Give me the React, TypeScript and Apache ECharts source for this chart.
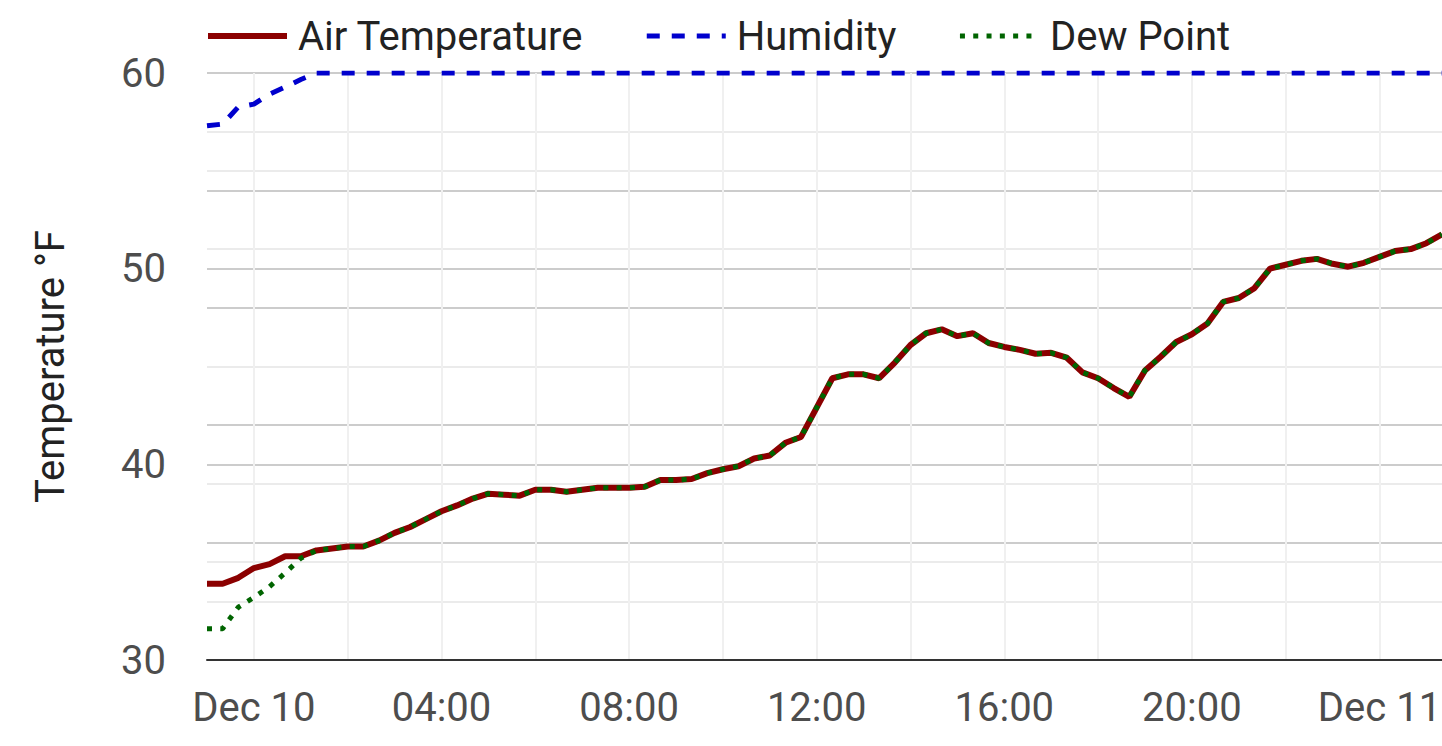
import React, { useEffect, useRef } from "react";
import * as echarts from "echarts";

// Readings every 20 minutes, starting Dec 9 23:00
const START_DAY = 9;
const START_MINUTE_OF_DAY = 23 * 60;
const STEP_MINUTES = 20;

const airTemperature = [
  33.9, 33.9, 34.2, 34.7, 34.9, 35.3, 35.3, 35.6, 35.7, 35.8,
  35.8, 36.1, 36.5, 36.8, 37.2, 37.6, 37.9, 38.25, 38.5, 38.45,
  38.4, 38.7, 38.7, 38.6, 38.7, 38.8, 38.8, 38.8, 38.85, 39.2,
  39.2, 39.25, 39.55, 39.75, 39.9, 40.3, 40.45, 41.1, 41.4, 42.9,
  44.4, 44.6, 44.6, 44.4, 45.2, 46.1, 46.7, 46.9, 46.55, 46.7,
  46.2, 46.0, 45.85, 45.65, 45.7, 45.45, 44.7, 44.4, 43.9, 43.45,
  44.8, 45.5, 46.25, 46.65, 47.2, 48.3, 48.5, 49.0, 50.0, 50.2,
  50.4, 50.5, 50.25, 50.1, 50.3, 50.6, 50.9, 51.0, 51.3, 51.75,
];

const dewPoint = [
  31.6, 31.6, 32.7, 33.2, 33.75, 34.45, 35.2, 35.6, 35.7, 35.8,
  35.8, 36.1, 36.5, 36.8, 37.2, 37.6, 37.9, 38.25, 38.5, 38.45,
  38.4, 38.7, 38.7, 38.6, 38.7, 38.8, 38.8, 38.8, 38.85, 39.2,
  39.2, 39.25, 39.55, 39.75, 39.9, 40.3, 40.45, 41.1, 41.4, 42.9,
  44.4, 44.6, 44.6, 44.4, 45.2, 46.1, 46.7, 46.9, 46.55, 46.7,
  46.2, 46.0, 45.85, 45.65, 45.7, 45.45, 44.7, 44.4, 43.9, 43.45,
  44.8, 45.5, 46.25, 46.65, 47.2, 48.3, 48.5, 49.0, 50.0, 50.2,
  50.4, 50.5, 50.25, 50.1, 50.3, 50.6, 50.9, 51.0, 51.3, 51.75,
];

const humidity = [
  91.0, 91.3, 94.2, 94.7, 96.4, 97.6, 98.9, 100, 100, 100,
  100, 100, 100, 100, 100, 100, 100, 100, 100, 100,
  100, 100, 100, 100, 100, 100, 100, 100, 100, 100,
  100, 100, 100, 100, 100, 100, 100, 100, 100, 100,
  100, 100, 100, 100, 100, 100, 100, 100, 100, 100,
  100, 100, 100, 100, 100, 100, 100, 100, 100, 100,
  100, 100, 100, 100, 100, 100, 100, 100, 100, 100,
  100, 100, 100, 100, 100, 100, 100, 100, 100, 100,
];

const pad = (n: number) => (n < 10 ? "0" + n : "" + n);
const timeLabels = airTemperature.map((_, i) => {
  const total = START_MINUTE_OF_DAY + i * STEP_MINUTES;
  const day = START_DAY + Math.floor(total / 1440);
  const m = total % 1440;
  return `Dec ${day} ${pad(Math.floor(m / 60))}:${pad(m % 60)}`;
});

const FONT = "Roboto";

export default function App() {
  const ref = useRef<HTMLDivElement>(null);
  useEffect(() => {
    if (!ref.current) return;
    const chart = echarts.init(ref.current, null, { renderer: "svg" });
    const majorLine = { show: true, lineStyle: { color: "#cccccc", width: 2 } };
    const minorLine = { show: true, lineStyle: { color: "#ebebeb", width: 2 } };
    chart.setOption({
      animation: false,
      backgroundColor: "#ffffff",
      grid: {
        left: 207,
        right: 0,
        top: 73,
        bottom: 86,
        containLabel: false,
        outerBoundsMode: "none",
      },
      legend: {
        left: 200,
        top: 11,
        itemWidth: 79,
        itemHeight: 14,
        itemGap: 61,
        itemStyle: { opacity: 0 },
        textStyle: {
          fontFamily: FONT,
          fontSize: 40,
          color: "#222222",
          padding: [0, 0, 0, 6],
        },
        data: [
          { name: "Air Temperature", lineStyle: { width: 6 } },
          { name: "Humidity", lineStyle: { width: 5 } },
          { name: "Dew Point", lineStyle: { width: 5 } },
        ],
      },
      xAxis: {
        type: "category",
        data: timeLabels,
        boundaryGap: false,
        axisLine: { show: true, lineStyle: { color: "#333333", width: 2 } },
        axisTick: { show: false },
        axisLabel: {
          interval: (index: number) => index % 12 === 3,
          margin: 27,
          fontFamily: FONT,
          fontSize: 40,
          color: "#4d4d4d",
          formatter: (v: string) => {
            const parts = v.split(" ");
            return parts[2] === "00:00" ? `${parts[0]} ${parts[1]}` : parts[2];
          },
        },
        splitLine: {
          show: true,
          interval: (index: number) => index % 6 === 3,
          lineStyle: { color: "#f0f0f0", width: 2 },
        },
      },
      yAxis: [
        {
          type: "value",
          position: "left",
          min: 30,
          max: 60,
          interval: 10,
          name: "Temperature °F",
          nameLocation: "middle",
          nameGap: 137,
          nameTextStyle: { fontFamily: FONT, fontSize: 40, color: "#222222" },
          axisLine: { show: false },
          axisTick: { show: false },
          axisLabel: { fontFamily: FONT, fontSize: 40, color: "#4d4d4d", margin: 41 },
          splitLine: majorLine,
          minorTick: { show: false, splitNumber: 2 },
          minorSplitLine: minorLine,
        },
        {
          type: "value",
          position: "right",
          min: 0,
          max: 100,
          interval: 20,
          axisLine: { show: false },
          axisTick: { show: false },
          axisLabel: { show: false },
          splitLine: majorLine,
          minorTick: { show: false, splitNumber: 2 },
          minorSplitLine: minorLine,
        },
      ],
      series: [
        {
          name: "Air Temperature",
          type: "line",
          yAxisIndex: 0,
          data: airTemperature,
          symbol: "none",
          itemStyle: { color: "#8b0000" },
          lineStyle: { color: "#8b0000", width: 6 },
        },
        {
          name: "Humidity",
          type: "line",
          yAxisIndex: 1,
          data: humidity,
          symbol: "none",
          itemStyle: { color: "#0000cd" },
          lineStyle: { color: "#0000cd", width: 5, type: [13, 12] },
        },
        {
          name: "Dew Point",
          type: "line",
          yAxisIndex: 0,
          data: dewPoint,
          symbol: "none",
          itemStyle: { color: "#006400" },
          lineStyle: { color: "#006400", width: 5, type: [5, 8.3] },
        },
      ],
    });
    return () => chart.dispose();
  }, []);
  return (
    <div
      ref={ref}
      style={{ position: "fixed", left: 0, top: 0, width: 1442, height: 746, background: "#fff" }}
    />
  );
}
